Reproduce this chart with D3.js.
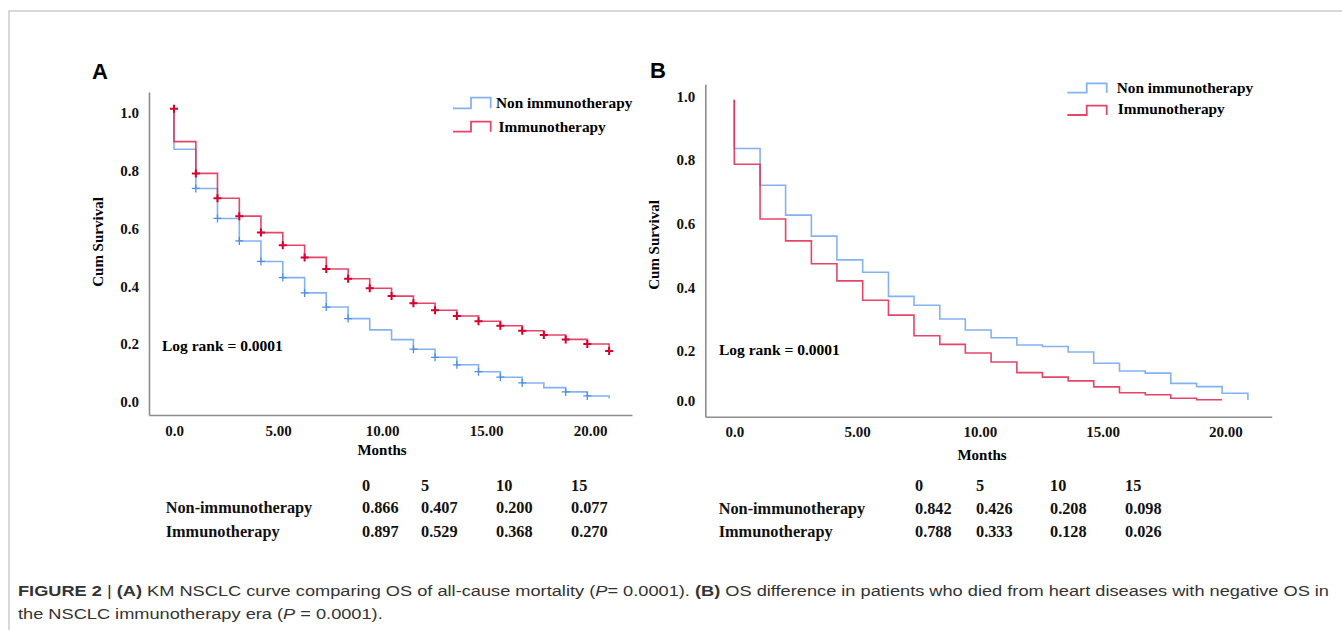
<!DOCTYPE html>
<html>
<head>
<meta charset="utf-8">
<script src="https://cdn.jsdelivr.net/npm/d3@7/dist/d3.min.js"></script>
<style>
  body { margin: 0; background: #fff; }
  svg { display: block; }
</style>
</head>
<body>
<svg id="fig" width="1342" height="630"></svg>
<script>
// ---- data ----
var months = [0, 1.05, 2.09, 3.14, 4.18, 5.23, 6.28, 7.32, 8.37, 9.41, 10.46,
              11.51, 12.55, 13.60, 14.64, 15.69, 16.74, 17.78, 18.83, 19.87, 20.92];
var xTickValues = [0, 5, 10, 15, 20];
var xTickLabels = ["0.0", "5.00", "10.00", "15.00", "20.00"];
var yTickValues = [0, 0.2, 0.4, 0.6, 0.8, 1.0];
var seriesNames = ["Non immunotherapy", "Immunotherapy"];
var tableRowNames = ["Non-immunotherapy", "Immunotherapy"];
var tableMonths = ["0", "5", "10", "15"];

// panel A (level after each step, last value = end of follow-up)
var aStart = 1.015;
var aNonSurv = [0.875, 0.739, 0.635, 0.557, 0.486, 0.430, 0.377, 0.328, 0.288, 0.249, 0.215,
                0.182, 0.154, 0.128, 0.104, 0.085, 0.065, 0.049, 0.034, 0.020, 0.012];
var aImmSurv = [0.901, 0.791, 0.705, 0.643, 0.586, 0.542, 0.500, 0.460, 0.426, 0.393, 0.366,
                0.341, 0.317, 0.297, 0.279, 0.263, 0.246, 0.231, 0.216, 0.200, 0.176];
var aNonCensored = [1, 2, 3, 4, 5, 6, 7, 8, 11, 12, 13, 14, 15, 16, 18, 19];
var aImmCensored = [1, 2, 3, 4, 5, 6, 7, 8, 9, 10, 11, 12, 13, 14, 15, 16, 17, 18, 19, 20];
var aTableNon = [0.866, 0.407, 0.200, 0.077];
var aTableImm = [0.897, 0.529, 0.368, 0.270];

// panel B
var bStart = 0.99;
var bNonSurv = [0.837, 0.721, 0.627, 0.561, 0.486, 0.447, 0.371, 0.343, 0.300, 0.265, 0.241,
                0.218, 0.213, 0.195, 0.150, 0.119, 0.111, 0.070, 0.057, 0.031, 0.004];
var bImmSurv = [0.787, 0.615, 0.546, 0.474, 0.420, 0.359, 0.312, 0.247, 0.220, 0.191,
                0.155, 0.113, 0.095, 0.080, 0.056, 0.033, 0.025, 0.011, 0.005, 0.005];
var bTableNon = [0.842, 0.426, 0.208, 0.098];
var bTableImm = [0.788, 0.333, 0.128, 0.026];

var blue = "#6ea5ee";
var red = "#e2244d";
var serif = "'Liberation Serif', 'Times New Roman', serif";
var sans = "'Liberation Sans', Arial, sans-serif";

var svg = d3.select("#fig");

// frame lines of the figure page
svg.append("path")
  .attr("d", "M9,630 V11 H1342")
  .attr("fill", "none")
  .attr("stroke", "#cdcdcd")
  .attr("stroke-width", 1.5);

function survPoints(start, surv) {
  var pts = [[months[0], start]];
  surv.forEach(function(v, i) { pts.push([months[i], v]); });
  return pts;
}

function drawPanel(cfg) {
  var g = svg.append("g");
  var x = d3.scaleLinear().domain(cfg.xDomain).range(cfg.xRange);
  var y = d3.scaleLinear().domain(cfg.yDomain).range(cfg.yRange);
  var bottom = cfg.yRange[0];
  var left = cfg.xRange[0];

  g.append("text")
    .attr("x", cfg.letterX).attr("y", cfg.letterY)
    .style("font-family", sans).style("font-weight", "bold").style("font-size", "22px")
    .text(cfg.letter);

  var xAxis = g.append("g")
    .attr("transform", "translate(0," + bottom + ")")
    .call(d3.axisBottom(x).tickValues(xTickValues)
      .tickFormat(function(d, i) { return xTickLabels[i]; })
      .tickSize(0).tickPadding(10));
  var yAxis = g.append("g")
    .attr("transform", "translate(" + left + ",0)")
    .call(d3.axisLeft(y).tickValues(yTickValues).tickFormat(d3.format(".1f"))
      .tickSize(0).tickPadding(10));
  [xAxis, yAxis].forEach(function(a) {
    a.select(".domain").attr("stroke", "#8c8c8c").attr("stroke-width", 1.6);
    a.selectAll("text")
      .style("font-family", serif).style("font-weight", "bold")
      .style("font-size", "15px").attr("fill", "#111");
  });

  g.append("text")
    .attr("x", cfg.monthsX).attr("y", cfg.monthsY)
    .attr("text-anchor", "middle")
    .style("font-family", serif).style("font-weight", "bold").style("font-size", "15px")
    .text("Months");

  g.append("text")
    .attr("transform", "translate(" + cfg.cumX + "," + cfg.cumY + ") rotate(-90)")
    .attr("text-anchor", "middle")
    .style("font-family", serif).style("font-weight", "bold").style("font-size", "15px")
    .text("Cum Survival");

  var line = d3.line()
    .x(function(d) { return x(d[0]); })
    .y(function(d) { return y(d[1]); })
    .curve(d3.curveStepAfter);

  cfg.series.forEach(function(s) {
    g.append("path")
      .attr("d", line(s.points))
      .attr("fill", "none")
      .attr("stroke", s.color)
      .attr("stroke-width", 1.6)
      .attr("stroke-opacity", 0.85);
    if (s.censor) {
      var marks = s.censor.map(function(i) { return [months[i], s.surv[i]]; });
      if (s.censorStart) marks.unshift([months[0], s.points[0][1]]);
      g.append("path")
        .attr("d", marks.map(function(d) {
          var cx = x(d[0]), cy = y(d[1]);
          return "M" + (cx - 4) + "," + cy + "H" + (cx + 4) + "M" + cx + "," + (cy - 4) + "V" + (cy + 4);
        }).join(""))
        .attr("fill", "none")
        .attr("stroke", s.markColor)
        .attr("stroke-width", s.markWidth);
    }
  });

  g.append("text")
    .attr("x", cfg.logX).attr("y", cfg.logY)
    .style("font-family", serif).style("font-weight", "bold").style("font-size", "15.5px")
    .text("Log rank = 0.0001");

  // legend
  cfg.legend.forEach(function(l, i) {
    var sx = cfg.legendSym;
    g.append("path")
      .attr("d", "M" + sx[0] + "," + l.yb + "H" + sx[1] + "V" + l.yt + "H" + sx[2] + "V" + l.yb)
      .attr("fill", "none").attr("stroke", l.color).attr("stroke-width", 1.8)
      .attr("stroke-opacity", 0.85);
    g.append("text")
      .attr("x", l.tx).attr("y", l.ty)
      .style("font-family", serif).style("font-weight", "bold").style("font-size", "15.3px")
      .text(seriesNames[i]);
  });

  // survival table under the plot
  var fmt = d3.format(".3f");
  var tbl = g.append("g")
    .style("font-family", serif).style("font-weight", "bold").style("font-size", "16.3px")
    .attr("fill", "#111");
  tableMonths.forEach(function(m, j) {
    tbl.append("text").attr("x", cfg.tableCols[j]).attr("y", cfg.tableRowsY[0]).text(m);
  });
  [cfg.tableNon, cfg.tableImm].forEach(function(row, r) {
    tbl.append("text").attr("x", cfg.tableLabelX).attr("y", cfg.tableRowsY[r + 1]).text(tableRowNames[r]);
    row.forEach(function(v, j) {
      tbl.append("text").attr("x", cfg.tableCols[j]).attr("y", cfg.tableRowsY[r + 1]).text(fmt(v));
    });
  });
}

drawPanel({
  letter: "A", letterX: 92, letterY: 79,
  xDomain: [-1.202, 22.019], xRange: [149, 632],
  yDomain: [-0.046, 1.0731], yRange: [415, 92],
  monthsX: 382, monthsY: 455, cumX: 103, cumY: 242,
  logX: 162, logY: 351,
  series: [
    { points: survPoints(aStart, aNonSurv), surv: aNonSurv, color: blue,
      censor: aNonCensored, markColor: "#4f8fe3", markWidth: 1.3 },
    { points: survPoints(aStart, aImmSurv), surv: aImmSurv, color: red,
      censor: aImmCensored, censorStart: true, markColor: "#d8002e", markWidth: 2 }
  ],
  legendSym: [453, 471, 490.7],
  legend: [
    { color: blue, yb: 108.3, yt: 97.7, tx: 496, ty: 107.7 },
    { color: red, yb: 131.7, yt: 121.7, tx: 498.6, ty: 132.3 }
  ],
  tableCols: [362, 421, 496, 571], tableLabelX: 165.7,
  tableRowsY: [490.5, 513, 537],
  tableNon: aTableNon, tableImm: aTableImm
});

drawPanel({
  letter: "B", letterX: 650, letterY: 77.5,
  xDomain: [-1.181, 21.89], xRange: [705.3, 1271.7],
  yDomain: [-0.062, 0, 0.2, 1.039], yRange: [416.7, 401, 350.7, 84.3],
  monthsX: 982, monthsY: 460, cumX: 659, cumY: 245,
  logX: 719, logY: 355,
  series: [
    { points: survPoints(bStart, bNonSurv), surv: bNonSurv, color: blue },
    { points: survPoints(bStart, bImmSurv), surv: bImmSurv, color: red }
  ],
  legendSym: [1067.3, 1086.7, 1106.7],
  legend: [
    { color: blue, yb: 92.7, yt: 83.3, tx: 1116.7, ty: 93.3 },
    { color: red, yb: 115, yt: 105.7, tx: 1117.7, ty: 114.3 }
  ],
  tableCols: [915, 976, 1050, 1125], tableLabelX: 718.7,
  tableRowsY: [491.3, 513.6, 537],
  tableNon: bTableNon, tableImm: bTableImm
});

// caption
var cap = svg.append("g")
  .style("font-family", sans).style("font-size", "15.5px").attr("fill", "#333");
var line1 = cap.append("text").attr("x", 18).attr("y", 596);
[["FIGURE 2", "bold"], [" | ", null], ["(A)", "bold"],
 [" KM NSCLC curve comparing OS of all-cause mortality (", null], ["P", "italic"],
 ["= 0.0001). ", null], ["(B)", "bold"],
 [" OS difference in patients who died from heart diseases with negative OS in", null]
].forEach(function(p) {
  var t = line1.append("tspan").text(p[0]);
  if (p[1] === "bold") t.style("font-weight", "bold");
  if (p[1] === "italic") t.style("font-style", "italic");
});
var line2 = cap.append("text").attr("x", 18).attr("y", 619);
[["the NSCLC immunotherapy era (", null], ["P", "italic"], [" = 0.0001).", null]]
.forEach(function(p) {
  var t = line2.append("tspan").text(p[0]);
  if (p[1] === "italic") t.style("font-style", "italic");
});
var w1 = line1.node().getComputedTextLength();
var ratio = 1311 / w1;
line1.attr("textLength", 1311).attr("lengthAdjust", "spacingAndGlyphs");
line2.attr("textLength", line2.node().getComputedTextLength() * ratio)
  .attr("lengthAdjust", "spacingAndGlyphs");
</script>
</body>
</html>
